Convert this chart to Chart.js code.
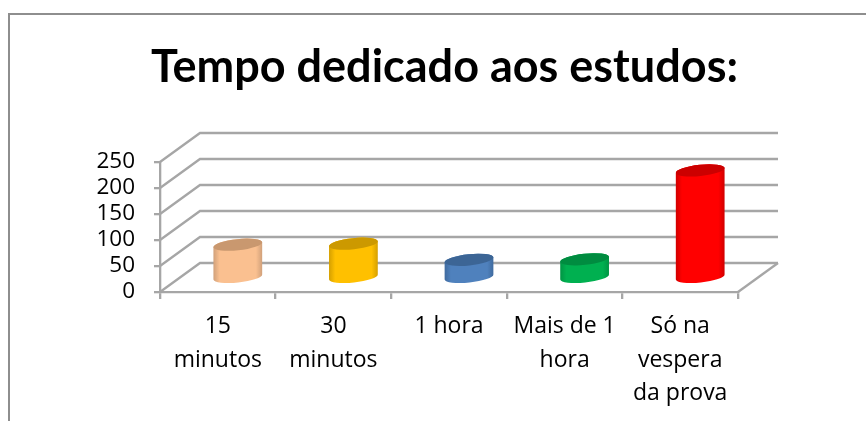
<!DOCTYPE html>
<html><head><meta charset="utf-8">
<style>html,body{margin:0;padding:0;background:#fff}canvas{display:block}</style>
<script src="https://cdn.jsdelivr.net/npm/chart.js@4"></script></head>
<body><canvas id="c" width="866" height="421"></canvas>
<script>
const titleText = "Tempo dedicado aos estudos:";
const categories = [["15","minutos"],["30","minutos"],"1 hora",["Mais de 1","hora"],["Só na","vespera","da prova"]];
const values = [63, 65, 34, 35, 206];
const barColors = ["#FAC090","#FFC000","#4F81BD","#00B050","#FF0000"];
const topColors = ["#C9986F","#CC9900","#3C6595","#008C40","#CC0000"];
const edgeColors = ["#D0A07A","#D49F00","#3F6A9E","#009443","#D00000"];
const depthX = 40, depthY = -29, gridColor = "#A6A6A6";
const titleFont = "Lato, Carlito, Calibri, sans-serif";
const tickFont = "'Open Sans', Carlito, Calibri, sans-serif";

const threeD = {
  id: "threeD",
  beforeDatasetsDraw(chart) {
    const c = chart.ctx, y = chart.scales.y, x = chart.scales.x;
    c.save();
    c.strokeStyle = gridColor; c.lineWidth = 2.3;
    const l = x.left, r = x.right;
    y.ticks.forEach(t => {
      const py = y.getPixelForValue(t.value);
      c.beginPath();
      c.moveTo(l, py); c.lineTo(l + depthX, py + depthY); c.lineTo(r + depthX, py + depthY);
      c.stroke();
    });
    const base = y.getPixelForValue(0);
    c.beginPath(); c.moveTo(r, base); c.lineTo(r + depthX, base + depthY); c.stroke();
    c.restore();
  },
  beforeDatasetDraw(chart, args) {
    const c = chart.ctx, rot = -0.105;
    args.meta.data.forEach((bar, i) => {
      const p = bar.getProps(["x","y","base","width"], true);
      const cx = p.x + depthX / 2, rx = p.width / 2, ry = 5.6;
      const ty = p.y + depthY / 2, by = p.base + depthY / 2 + 0.6;
      const g = c.createLinearGradient(cx - rx, 0, cx + rx, 0);
      g.addColorStop(0, edgeColors[i]); g.addColorStop(0.13, barColors[i]);
      g.addColorStop(0.87, barColors[i]); g.addColorStop(1, edgeColors[i]);
      c.save();
      c.fillStyle = g;
      c.beginPath();
      c.ellipse(cx, by, rx, ry, rot, 0, Math.PI);
      c.ellipse(cx, ty, rx, ry, rot, Math.PI, 2 * Math.PI);
      c.closePath(); c.fill();
      c.fillStyle = topColors[i];
      c.beginPath(); c.ellipse(cx, ty, rx, ry, rot, 0, 2 * Math.PI); c.fill();
      c.restore();
    });
    return false;
  },
  afterDraw(chart) {
    const c = chart.ctx;
    c.save(); c.strokeStyle = "#8E8E8E"; c.lineWidth = 2;
    c.beginPath(); c.moveTo(9, 421); c.lineTo(9, 14); c.lineTo(866, 14); c.stroke();
    c.restore();
  }
};

new Chart(document.getElementById("c"), {
  type: "bar",
  data: { labels: categories, datasets: [{ data: values, backgroundColor: barColors, barPercentage: 0.424, categoryPercentage: 1 }] },
  plugins: [threeD],
  options: {
    responsive: false, animation: false,
    layout: { padding: { left: 10, right: 128, top: 0, bottom: 0 } },
    plugins: {
      legend: { display: false }, tooltip: { enabled: false },
      title: { display: true, text: titleText, align: "end", color: "#000",
        font: { family: titleFont, size: 45, weight: "bold", lineHeight: 1.2 },
        padding: { top: 40, bottom: 68 } }
    },
    scales: {
      x: {
        afterFit: s => { s.height = 129; },
        grid: { drawOnChartArea: false, color: gridColor, lineWidth: 2.3, tickLength: 7 },
        border: { color: gridColor, width: 2.3 },
        ticks: { color: "#000", font: { family: tickFont, size: 23, lineHeight: 1.46 }, padding: 11, maxRotation: 0, autoSkip: false }
      },
      y: {
        min: 0, max: 250,
        afterFit: s => { s.width = 150; },
        grid: { drawOnChartArea: false, color: gridColor, lineWidth: 2.3, tickLength: 6 },
        border: { color: gridColor, width: 2.3 },
        ticks: { stepSize: 50, autoSkip: false, color: "#000", font: { family: tickFont, size: 22.5 }, padding: 19 }
      }
    }
  }
});
</script></body></html>
